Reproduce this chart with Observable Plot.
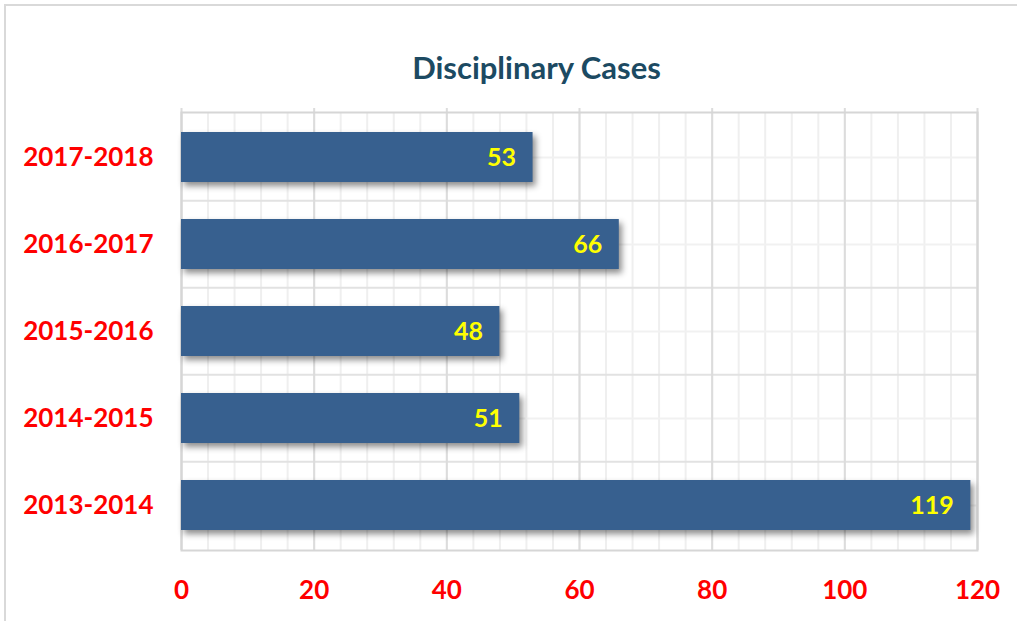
<!DOCTYPE html>
<html>
<head>
<meta charset="utf-8">
<script src="https://cdn.jsdelivr.net/npm/d3@7"></script>
<script src="https://cdn.jsdelivr.net/npm/@observablehq/plot@0.6"></script>
<style>
  body { margin: 0; background: #fff; }
  #wrap { position: relative; width: 1017px; height: 621px; overflow: hidden; background: #fff; }
  #border { position: absolute; left: 4px; top: 4px; width: 1100px; height: 700px;
            border-top: 2px solid #d9d9d9; border-left: 2px solid #d9d9d9; }
  #title { position: relative; height: 100px; box-sizing: border-box; padding-top: 52px; padding-left: 56px;
           text-align: center; font-family: Lato, sans-serif; font-weight: bold; font-size: 31px;
           line-height: 31px; color: #1C4A62; }
  #chart { position: relative; }
  #chart g[aria-label="bar"] { filter: drop-shadow(3px 4px 3px rgba(0,0,0,0.45)); }
</style>
</head>
<body>
<div id="wrap">
  <div id="border"></div>
  <div id="title">Disciplinary Cases</div>
  <div id="chart"></div>
</div>
<script>
const categories = ["2017-2018", "2016-2017", "2015-2016", "2014-2015", "2013-2014"];
const values = [53, 66, 48, 51, 119];
const xTicks = [0, 20, 40, 60, 80, 100, 120];
const minorTicks = d3.range(0, 121, 4);

const data = categories.map((c, i) => ({category: c, value: values[i]}));

const marginTop = 12, marginBottom = 71;
const plotH = 521 - marginTop - marginBottom;
const step = plotH / (categories.length);

const chart = Plot.plot({
  width: 1017,
  height: 521,
  marginLeft: 181,
  marginRight: 40,
  marginTop,
  marginBottom,
  style: {background: "transparent", overflow: "visible", fontFamily: "Lato, sans-serif"},
  x: {domain: [0, 120], ticks: xTicks, tickSize: 0, tickPadding: 30, label: null},
  y: {domain: categories, paddingInner: 0.43, paddingOuter: 0.215, tickSize: 0, tickPadding: 28, label: null},
  marks: [
    Plot.ruleX(minorTicks, {stroke: "#efefef", strokeWidth: 2}),
    Plot.ruleY(categories, {stroke: "#f1f1f1", strokeWidth: 2}),
    Plot.ruleY(categories.slice(1), {stroke: "#e2e2e2", strokeWidth: 2, dy: -step / 2}),
    Plot.ruleX(xTicks, {stroke: "#dcdcdc", strokeWidth: 2, insetTop: -4}),
    Plot.frame({stroke: "#d6d6d6", strokeWidth: 2}),
    Plot.barX(data, {x: "value", y: "category", fill: "#37608F"}),
    Plot.text(data, {x: "value", y: "category", text: d => String(d.value), textAnchor: "end", dx: -17,
      fill: "#FFFF00", fontSize: 25, fontWeight: "bold"}),
    Plot.axisX({ticks: xTicks, tickSize: 0, tickPadding: 30, fill: "#FF0000", fontSize: 26, fontWeight: "bold", label: null}),
    Plot.axisY({tickSize: 0, tickPadding: 28, fill: "#FF0000", fontSize: 26, fontWeight: "bold", label: null})
  ]
});
document.getElementById("chart").appendChild(chart);
</script>
</body>
</html>
